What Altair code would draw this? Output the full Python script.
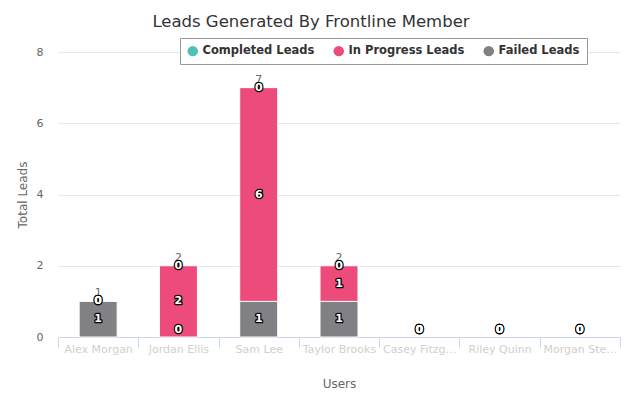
import altair as alt
import pandas as pd

users = ["Alex Morgan", "Jordan Ellis", "Sam Lee", "Taylor Brooks",
         "Casey Fitzgerald", "Riley Quinn", "Morgan Stewart"]
series_names = ["Completed Leads", "In Progress Leads", "Failed Leads"]
series_colors = ["#50c1b2", "#ec4b7b", "#808085"]
completed = [0, 0, 0, 0, 0, 0, 0]
in_progress = [0, 2, 6, 1, 0, 0, 0]
failed = [1, 0, 1, 1, 0, 0, 0]
y_ticks = [0, 2, 4, 6, 8]

rows = []
for i, u in enumerate(users):
    for name, vals, o in [("Failed Leads", failed, 0),
                          ("In Progress Leads", in_progress, 1),
                          ("Completed Leads", completed, 2)]:
        rows.append(dict(user=u, series=name, value=vals[i], order=o))
df = pd.DataFrame(rows)
totals = pd.DataFrame(dict(user=users,
                           total=[a + b + c for a, b, c in zip(completed, in_progress, failed)]))

FONT = "DejaVu Sans"

x = alt.X("user:N", sort=users,
          scale=alt.Scale(paddingInner=0, paddingOuter=0),
          axis=alt.Axis(title="Users", tickBand="extent", tickSize=10,
                        tickColor="#ccd6eb", domainColor="#ccd6eb",
                        labelColor="#cfcfcf", labelFontSize=11, labelFont=FONT,
                        labelAngle=0, labelPadding=-4, labelLimit=78,
                        titleColor="#666666", titleFontSize=12, titleFont=FONT,
                        titleFontWeight="normal", titlePadding=24, grid=False))

yaxis = alt.Axis(title="Total Leads", values=y_ticks, tickSize=0, ticks=False,
                 domain=False, gridColor="#e6e6e6", labelColor="#666666",
                 labelFontSize=11, labelFont=FONT, labelPadding=15,
                 titleColor="#666666", titleFontSize=12, titleFont=FONT,
                 titleFontWeight="normal", titlePadding=7)
yscale = alt.Scale(domain=[0, 8], nice=False)

base = alt.Chart(df).transform_stack(
    stack="value", groupby=["user"], sort=[alt.SortField("order", "ascending")],
    as_=["y0", "y1"]
).transform_calculate(
    mid="(datum.y0 + datum.y1) / 2"
).transform_calculate(
    labely="max(datum.mid, 0.2)"
)

bars = base.transform_filter("datum.value > 0").mark_bar(
    size=38, stroke="white", strokeWidth=1
).encode(
    x=x,
    y=alt.Y("y0:Q", scale=yscale, axis=yaxis),
    y2="y1:Q",
    color=alt.Color("series:N",
                    scale=alt.Scale(domain=series_names, range=series_colors),
                    legend=alt.Legend(orient="none", legendX=122, legendY=-14,
                                      direction="horizontal", title=None,
                                      symbolType="circle", symbolSize=110,
                                      symbolStrokeWidth=0,
                                      labelFontWeight="bold", labelFontSize=11.5,
                                      labelFont=FONT, labelColor="#333333",
                                      strokeColor="#999999", fillColor="white",
                                      padding=7, columnPadding=18,
                                      labelLimit=200)),
)

tot = alt.Chart(totals).mark_text(
    dy=-8, fontSize=11, color="#666666", font=FONT
).encode(
    x=x,
    y=alt.Y("total:Q", scale=yscale, axis=yaxis),
    text="total:Q",
)

outline = base.mark_text(
    fontSize=11, fontWeight="bold", font=FONT, stroke="black",
    strokeWidth=2.5, strokeJoin="round", fill="black"
).encode(
    x=x,
    y=alt.Y("labely:Q", scale=yscale, axis=yaxis),
    text="value:Q",
)

labels = base.mark_text(
    fontSize=11, fontWeight="bold", font=FONT, fill="white"
).encode(
    x=x,
    y=alt.Y("labely:Q", scale=yscale, axis=yaxis),
    text="value:Q",
)

chart = alt.layer(bars, tot, outline, labels).properties(
    width=562, height=285,
    autosize=alt.AutoSizeParams(type="none"),
    padding={"left": 50, "top": 44, "right": 15, "bottom": 54},
    title=alt.TitleParams("Leads Generated By Frontline Member", fontSize=16.5,
                          font=FONT, color="#333333", fontWeight="normal",
                          anchor="middle", offset=7, dx=-28),
).configure_view(stroke=None)

chart.save("out.html", embed_options={"renderer": "svg", "actions": False})
